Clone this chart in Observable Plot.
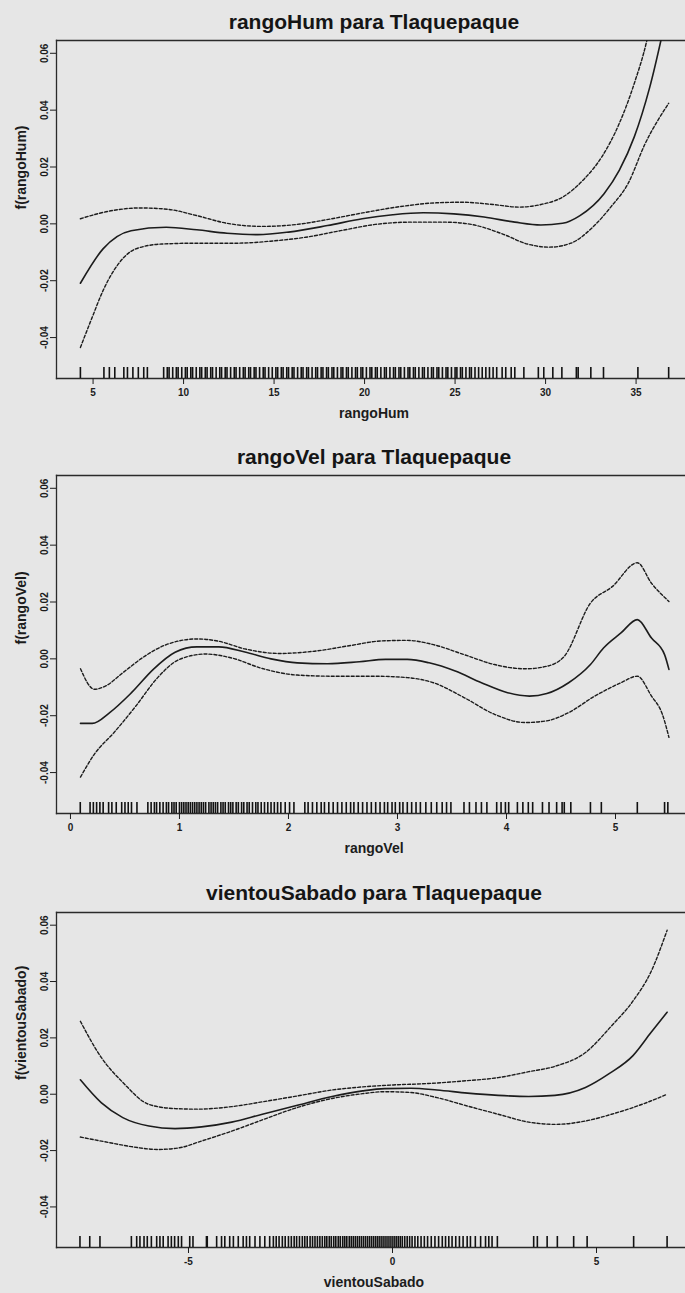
<!DOCTYPE html>
<html><head><meta charset="utf-8">
<script src="https://cdn.jsdelivr.net/npm/d3@7"></script>
<script src="https://cdn.jsdelivr.net/npm/@observablehq/plot@0.6"></script>
<style>
html,body{margin:0;padding:0;background:#e6e6e6;overflow:hidden;}
body{width:685px;height:1293px;position:relative;font-family:"Liberation Sans",Arial,sans-serif;}
.title{position:absolute;left:56px;width:636px;text-align:center;font-weight:bold;font-size:21px;line-height:21px;color:#151515;white-space:nowrap;}
.panel{position:absolute;left:0;}
</style></head><body>
<script>
// ---------- shared y axis ----------
const yDomain = [-0.0544, 0.0645];
const yTicks = [-0.04, -0.02, 0, 0.02, 0.04, 0.06];

// ---------- Panel 1: rangoHum ----------
const humTitle = "rangoHum para Tlaquepaque";
const humXTicks = [5, 10, 15, 20, 25, 30, 35];
const humFitX = [4.3,5.55,7.1,9.04,10.73,12.4,14.1,15.8,17.95,19.87,21.56,23.24,24.93,26.6,28.3,29.74,30.94,31.9,33.23,34.07,34.9,35.76,36.8];
const humFitY = [-0.0209,-0.0088,-0.0024,-0.0012,-0.0021,-0.0033,-0.0038,-0.0029,-0.0006,0.0018,0.0032,0.0039,0.0035,0.0024,0.0006,-0.0004,0.0002,0.0029,0.0106,0.0188,0.0306,0.0482,0.077];
const humUpX = [4.3,5.91,7.6,9.16,10.73,12.4,14.34,16.26,18.19,20.1,22.0,23.96,25.4,27.1,28.54,29.74,30.94,32.15,33.1,34.07,34.9,35.6,36.8];
const humUpY = [0.0018,0.0045,0.0056,0.0051,0.0029,0.0002,-0.0009,-0.0002,0.0018,0.0041,0.0061,0.0074,0.0076,0.0068,0.0059,0.0068,0.0094,0.0159,0.0235,0.0353,0.0494,0.0647,0.111];
const humLoX = [4.3,4.95,5.55,6.4,7.36,8.8,10.73,12.9,14.8,16.75,18.67,20.6,22.5,24.45,25.9,27.6,29.0,30.2,31.4,32.6,33.6,34.55,35.5,36.8];
const humLoY = [-0.0435,-0.0329,-0.0235,-0.0141,-0.0088,-0.0071,-0.0068,-0.0068,-0.0061,-0.0047,-0.0024,-0.0002,0.0006,0.0006,-0.0002,-0.0035,-0.0071,-0.0082,-0.0068,-0.0012,0.0059,0.0141,0.0282,0.0424];
const humRug = [4.3,5.6,5.9,6.2,6.7,6.9,7.2,7.5,7.8,8.0,8.9,9.1,9.2,9.4,9.6,9.7,9.9,10.1,10.2,10.4,10.5,10.7,10.9,11.0,11.2,11.3,11.5,11.6,11.8,12.0,12.1,12.3,12.4,12.6,12.8,12.9,13.1,13.3,13.4,13.6,13.7,13.9,14.0,14.2,14.4,14.5,14.7,14.9,15.1,15.2,15.4,15.5,15.7,15.8,16.0,16.1,16.3,16.5,16.6,16.8,16.9,17.1,17.3,17.4,17.6,17.7,17.9,18.0,18.2,18.3,18.5,18.7,18.8,19.0,19.1,19.3,19.5,19.6,19.8,19.9,20.1,20.3,20.4,20.6,20.7,20.9,21.1,21.2,21.4,21.6,21.7,21.9,22.0,22.2,22.4,22.5,22.7,22.8,23.0,23.2,23.3,23.5,23.7,23.8,24.0,24.1,24.3,24.5,24.6,24.8,25.0,25.1,25.3,25.4,25.6,25.8,25.9,26.1,26.3,26.5,26.7,26.9,27.1,27.3,27.6,27.8,28.1,28.3,28.8,29.6,29.9,30.4,30.9,31.7,31.8,32.5,33.2,35.1,36.8];

// ---------- Panel 2: rangoVel ----------
const velTitle = "rangoVel para Tlaquepaque";
const velXTicks = [0, 1, 2, 3, 4, 5];
const velFitX = [0.092,0.2,0.36,0.56,0.76,0.96,1.16,1.36,1.6,1.84,2.08,2.36,2.65,2.89,3.09,3.29,3.53,3.77,4.01,4.21,4.37,4.57,4.77,4.89,5.05,5.2,5.33,5.45,5.49];
const velFitY = [-0.0227,-0.0227,-0.0189,-0.0119,-0.0037,0.0023,0.0042,0.0042,0.0024,0.0,-0.0014,-0.0017,-0.001,-0.0002,-0.0002,-0.0014,-0.0043,-0.0084,-0.0119,-0.0131,-0.0122,-0.0084,-0.002,0.0038,0.0091,0.0138,0.0073,0.0015,-0.0037];
const velUpX = [0.092,0.22,0.32,0.48,0.68,0.88,1.16,1.36,1.6,1.92,2.24,2.57,2.85,3.09,3.33,3.61,3.89,4.17,4.37,4.53,4.77,4.97,5.2,5.33,5.49];
const velUpY = [-0.0035,-0.0107,-0.0096,-0.0049,0.0009,0.005,0.007,0.0062,0.0035,0.0019,0.0027,0.0047,0.0063,0.0065,0.005,0.0015,-0.002,-0.0035,-0.0026,0.0009,0.0196,0.0254,0.0338,0.0266,0.0202];
const velLoX = [0.092,0.22,0.4,0.6,0.8,1.0,1.24,1.48,1.76,2.08,2.4,2.77,3.09,3.33,3.61,3.89,4.17,4.37,4.57,4.81,5.05,5.2,5.33,5.43,5.49];
const velLoY = [-0.0416,-0.0335,-0.0259,-0.0166,-0.0066,-0.0002,0.0017,0.0003,-0.0034,-0.0057,-0.0061,-0.0061,-0.0066,-0.0084,-0.0136,-0.0195,-0.0224,-0.0218,-0.0189,-0.0131,-0.0084,-0.0061,-0.0131,-0.0195,-0.0276];
const velRug = [0.09,0.18,0.21,0.24,0.27,0.30,0.35,0.38,0.42,0.47,0.50,0.53,0.56,0.61,0.71,0.74,0.77,0.79,0.82,0.85,0.88,0.90,0.93,0.95,0.97,1.0,1.02,1.04,1.06,1.08,1.10,1.12,1.14,1.16,1.18,1.20,1.22,1.24,1.27,1.29,1.31,1.33,1.35,1.38,1.40,1.42,1.45,1.47,1.49,1.52,1.54,1.57,1.59,1.62,1.64,1.67,1.70,1.72,1.75,1.78,1.81,1.84,1.87,1.90,1.93,1.97,2.01,2.05,2.15,2.18,2.22,2.26,2.30,2.33,2.37,2.41,2.45,2.49,2.53,2.57,2.60,2.64,2.68,2.72,2.76,2.80,2.84,2.88,2.91,2.95,2.98,3.02,3.05,3.09,3.13,3.17,3.21,3.26,3.31,3.36,3.41,3.45,3.49,3.61,3.66,3.72,3.77,3.82,3.91,3.95,3.99,4.02,4.10,4.15,4.20,4.24,4.33,4.39,4.46,4.51,4.53,4.59,4.77,4.87,5.2,5.45,5.48];

// ---------- Panel 3: vientouSabado ----------
const vieTitle = "vientouSabado para Tlaquepaque";
const vieXTicks = [-5, 0, 5];
const vieFitX = [-7.65,-7.14,-6.61,-5.97,-5.33,-4.68,-3.94,-3.19,-2.33,-1.48,-0.73,-0.19,0.45,1.09,1.84,2.59,3.34,3.98,4.73,5.3,5.9,6.33,6.73];
const vieFitY = [0.0051,-0.003,-0.0083,-0.0113,-0.0122,-0.0116,-0.0099,-0.0071,-0.0039,-0.0008,0.0012,0.002,0.0021,0.0015,0.0004,-0.0004,-0.0008,-0.0004,0.0024,0.0072,0.0138,0.0218,0.0291];
const vieUpX = [-7.65,-7.14,-6.61,-5.97,-5.33,-4.79,-3.94,-3.19,-2.33,-1.48,-0.73,0.02,0.88,1.73,2.59,3.34,3.98,4.73,5.37,5.9,6.33,6.73];
const vieUpY = [0.0259,0.0131,0.0042,-0.0036,-0.0051,-0.0053,-0.0044,-0.0027,-0.0006,0.0015,0.0026,0.0033,0.0038,0.0047,0.0059,0.008,0.0099,0.0148,0.0243,0.0332,0.0433,0.0582];
const vieLoX = [-7.65,-6.93,-6.4,-5.75,-5.22,-4.68,-3.94,-3.19,-2.33,-1.48,-0.73,-0.19,0.45,1.09,1.84,2.59,3.34,3.98,4.73,5.37,5.9,6.33,6.73];
const vieLoY = [-0.0152,-0.0172,-0.0186,-0.0196,-0.019,-0.0166,-0.0131,-0.0091,-0.0047,-0.0015,0.0002,0.0009,0.0006,-0.0012,-0.0042,-0.0071,-0.0099,-0.0107,-0.0095,-0.0071,-0.0047,-0.0024,0.0];
const vieRug = [-7.66,-7.42,-7.17,-6.40,-6.27,-6.19,-6.09,-6.01,-5.91,-5.78,-5.70,-5.62,-5.50,-5.42,-5.34,-5.25,-5.17,-4.97,-4.89,-4.56,-4.54,-4.31,-4.19,-4.11,-3.99,-3.90,-3.78,-3.66,-3.58,-3.50,-3.37,-3.25,-3.13,-3.01,-2.92,-2.85,-2.78,-2.70,-2.63,-2.55,-2.48,-2.41,-2.35,-2.28,-2.21,-2.15,-2.09,-2.02,-1.96,-1.90,-1.84,-1.78,-1.72,-1.66,-1.61,-1.55,-1.50,-1.44,-1.39,-1.33,-1.28,-1.22,-1.17,-1.12,-1.06,-1.01,-0.96,-0.91,-0.86,-0.81,-0.76,-0.71,-0.66,-0.61,-0.56,-0.51,-0.46,-0.41,-0.36,-0.31,-0.26,-0.21,-0.16,-0.11,-0.06,-0.01,0.04,0.09,0.14,0.19,0.24,0.30,0.36,0.42,0.48,0.55,0.62,0.70,0.78,0.86,0.95,1.04,1.13,1.22,1.30,1.38,1.46,1.55,1.64,1.73,1.83,1.91,2.03,2.16,2.28,2.36,2.44,2.57,3.46,3.55,3.79,4.04,4.44,4.77,5.91,6.73];

// ---------- drawing ----------
const ink = "#1c1c1c";
const font = '"Liberation Sans", Arial, sans-serif';
const pts = (xs, ys) => xs.map((x, i) => ({x, y: ys[i]}));

function panel(cfg) {
  const plotH = cfg.bottom - cfg.top;
  const mt = 10, mb = 52;
  const svg = Plot.plot({
    width: 685, height: plotH + mt + mb,
    marginTop: mt, marginBottom: mb, marginLeft: 56, marginRight: 0,
    x: {domain: cfg.xDomain},
    y: {domain: yDomain},
    style: {background: "transparent", color: ink, fontFamily: font, overflow: "visible"},
    marks: [
      Plot.frame({anchor: "top", stroke: "#2a2a2a", strokeWidth: 1.3}),
      Plot.frame({anchor: "left", stroke: "#2a2a2a", strokeWidth: 1.3}),
      Plot.frame({anchor: "bottom", stroke: "#2a2a2a", strokeWidth: 1.3}),
      Plot.axisX({ticks: cfg.xTicks, tickFormat: d => String(d), tickSize: 6, tickPadding: 4, fontSize: 10, fontWeight: "bold", label: null}),
      Plot.axisY({ticks: yTicks, tickFormat: d => d.toFixed(2), tickSize: 6, tickRotate: -90, fontSize: 10, fontWeight: "bold", label: null}),
      Plot.text([cfg.xLabel], {text: d => d, frameAnchor: "bottom", dx: 3, dy: 35, fontSize: 14, fontWeight: "bold", lineAnchor: "middle", fill: ink}),
      Plot.text([cfg.yLabel], {text: d => d, frameAnchor: "left", dx: -35, rotate: -90, fontSize: 14, fontWeight: "bold", lineAnchor: "middle", fill: ink}),
      Plot.ruleX(cfg.rug, {x: d => d, insetTop: plotH - 11, stroke: "#111", strokeWidth: 1.6}),
      Plot.line(pts(cfg.upX, cfg.upY), {x: "x", y: "y", curve: "monotone-x", stroke: ink, strokeWidth: 1.4, strokeDasharray: "3,2", clip: true}),
      Plot.line(pts(cfg.loX, cfg.loY), {x: "x", y: "y", curve: "monotone-x", stroke: ink, strokeWidth: 1.4, strokeDasharray: "3,2", clip: true}),
      Plot.line(pts(cfg.fitX, cfg.fitY), {x: "x", y: "y", curve: "monotone-x", stroke: ink, strokeWidth: 1.6, clip: true})
    ]
  });
  const wrap = document.createElement("div");
  wrap.className = "panel";
  wrap.style.top = (cfg.top - mt) + "px";
  wrap.appendChild(svg);
  document.body.appendChild(wrap);
  const t = document.createElement("div");
  t.className = "title";
  t.style.top = cfg.titleTop + "px";
  t.textContent = cfg.title;
  document.body.appendChild(t);
}

panel({title: humTitle, titleTop: 10.5, top: 40, bottom: 378, xDomain: [2.98, 37.73], xTicks: humXTicks,
  xLabel: "rangoHum", yLabel: "f(rangoHum)", rug: humRug,
  fitX: humFitX, fitY: humFitY, upX: humUpX, upY: humUpY, loX: humLoX, loY: humLoY});
panel({title: velTitle, titleTop: 445.5, top: 475, bottom: 813, xDomain: [-0.128, 5.642], xTicks: velXTicks,
  xLabel: "rangoVel", yLabel: "f(rangoVel)", rug: velRug,
  fitX: velFitX, fitY: velFitY, upX: velUpX, upY: velUpY, loX: velLoX, loY: velLoY});
panel({title: vieTitle, titleTop: 882, top: 912, bottom: 1247, xDomain: [-8.235, 7.181], xTicks: vieXTicks,
  xLabel: "vientouSabado", yLabel: "f(vientouSabado)", rug: vieRug,
  fitX: vieFitX, fitY: vieFitY, upX: vieUpX, upY: vieUpY, loX: vieLoX, loY: vieLoY});
</script>
</body></html>
